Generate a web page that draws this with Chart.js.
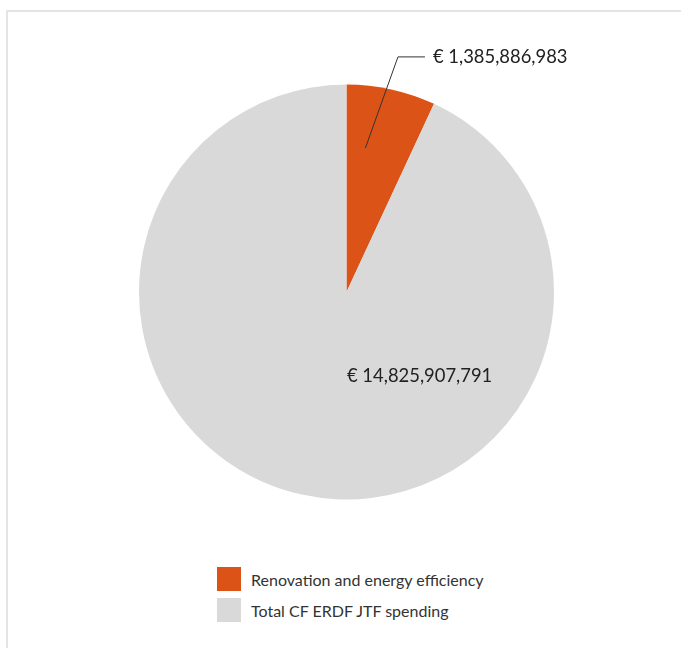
<!DOCTYPE html>
<html>
<head>
<meta charset="utf-8">
<script src="https://cdn.jsdelivr.net/npm/chart.js@4.4.0/dist/chart.umd.min.js"></script>
<style>
  html, body { margin: 0; padding: 0; background: #fff; overflow: hidden; }
  body { width: 681px; height: 648px; position: relative; font-family: Lato, sans-serif; }
  .frame { position: absolute; left: 6px; top: 10px; width: 800px; height: 800px; border: 2px solid #e4e4e4; box-sizing: border-box; }
  .wrap { position: absolute; left: 0; top: 0; width: 681px; height: 520px; }
  #legend { position: absolute; left: 217px; top: 567px; }
  #legend .item { display: flex; align-items: center; height: 24px; margin-bottom: 7px; font-size: 16px; color: #333; }
  #legend .box { width: 24px; height: 24px; margin-right: 10px; }
</style>
</head>
<body>
<div class="frame"></div>
<div class="wrap"><canvas id="pie"></canvas></div>
<div id="legend"></div>
<script>
// categorias e valores
const categories = ['Renovation and energy efficiency', 'Total CF ERDF JTF spending'];
const amounts = ['€ 1,385,886,983', '€ 14,825,907,791'];
// parte do círculo (%)
const shares = [6.93, 93.07];
const colors = ['#dc5318', '#d9d9d9'];

// rótulos desenhados à mão sobre o gráfico
const sliceLabels = {
  id: 'sliceLabels',
  afterDatasetsDraw(chart) {
    const ctx = chart.ctx;
    const arcs = chart.getDatasetMeta(0).data;
    const a0 = arcs[0];
    const cx = a0.x, cy = a0.y, R = a0.outerRadius;
    ctx.save();
    ctx.font = '18.4px Lato, sans-serif';
    ctx.fillStyle = '#222';
    ctx.textBaseline = 'middle';
    ctx.textAlign = 'left';

    // fatia laranja com linha guia
    const ang = a0.startAngle + 0.3 * (a0.endAngle - a0.startAngle);
    const px = cx + Math.cos(ang) * R * 0.7;
    const py = cy + Math.sin(ang) * R * 0.7;
    const ex = cx + 0.248 * R;
    const ey = cy - 1.133 * R;
    ctx.strokeStyle = '#333';
    ctx.lineWidth = 1;
    ctx.beginPath();
    ctx.moveTo(px, py);
    ctx.lineTo(ex, ey);
    ctx.lineTo(ex + 27, ey);
    ctx.stroke();
    ctx.fillText(amounts[0], ex + 35, ey);

    // fatia cinza
    ctx.fillText(amounts[1], cx + 0.5, cy + 0.405 * R);
    ctx.restore();
  }
};

const chart = new Chart(document.getElementById('pie').getContext('2d'), {
  type: 'pie',
  data: {
    labels: categories,
    datasets: [{
      data: shares,
      backgroundColor: colors,
      borderWidth: 0,
      hoverOffset: 0
    }]
  },
  options: {
    responsive: true,
    maintainAspectRatio: false,
    animation: false,
    layout: { padding: { left: 139, right: 127, top: 84.5, bottom: 20.5 } },
    plugins: {
      legend: { display: false },
      tooltip: { enabled: false }
    }
  },
  plugins: [sliceLabels]
});

// legenda em HTML, uma linha por item
const legendEl = document.getElementById('legend');
chart.options.plugins.legend.labels.generateLabels(chart).forEach(item => {
  const row = document.createElement('div');
  row.className = 'item';
  const box = document.createElement('span');
  box.className = 'box';
  box.style.background = item.fillStyle;
  const txt = document.createElement('span');
  txt.textContent = item.text;
  row.appendChild(box);
  row.appendChild(txt);
  legendEl.appendChild(row);
});
</script>
</body>
</html>
